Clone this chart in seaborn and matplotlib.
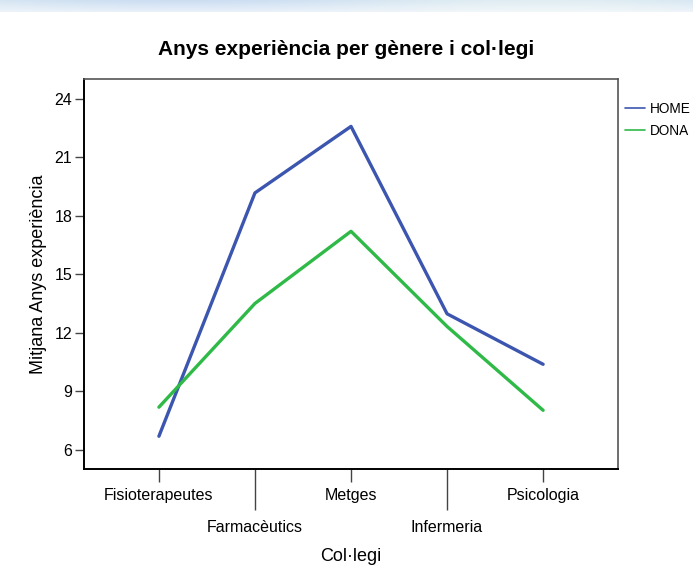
import numpy as np
import pandas as pd
import matplotlib
matplotlib.use("Agg")
import matplotlib.pyplot as plt
from matplotlib.lines import Line2D
import seaborn as sns

colleges = ['Fisioterapeutes', 'Farmacèutics', 'Metges', 'Infermeria', 'Psicologia']
home = [6.68, 19.16, 22.57, 12.96, 10.37]
dona = [8.17, 13.49, 17.19, 12.31, 8.01]
genders = ['HOME', 'DONA']
yticks = [6, 9, 12, 15, 18, 21, 24]

df = pd.DataFrame({
    'college': colleges * 2,
    'pos': list(range(len(colleges))) * 2,
    'anys': home + dona,
    'genere': ['HOME'] * len(colleges) + ['DONA'] * len(colleges),
})

sns.set_style("white")
plt.rcParams['font.family'] = ['Liberation Sans', 'DejaVu Sans']
plt.rcParams['text.color'] = 'black'
plt.rcParams['axes.labelcolor'] = 'black'
plt.rcParams['xtick.color'] = 'black'
plt.rcParams['ytick.color'] = 'black'

pal = {'HOME': '#3c56b0', 'DONA': '#2fba48'}

fig = plt.figure(figsize=(6.93, 5.73), dpi=100)

# faint band at the top, like the picture behind the original chart
bg = fig.add_axes([0, 0, 1, 1], zorder=-1)
grad = np.ones((573, 693, 3))
band = np.linspace(0, 1, 693)
for i in range(12):
    a = 1 - i / 12 * 0.6
    grad[i, :, 0] = 1 - a * (0.16 + 0.04 * np.sin(band * 6))
    grad[i, :, 1] = 1 - a * (0.10 + 0.03 * np.sin(band * 6))
    grad[i, :, 2] = 1 - a * 0.05
bg.imshow(grad, aspect='auto', extent=[0, 1, 0, 1])
bg.axis('off')

ax = fig.add_axes([0.1212, 0.1815, 0.7706, 0.6806])
ax.patch.set_alpha(0)
sns.lineplot(data=df, x='pos', y='anys', hue='genere', hue_order=genders,
             palette=pal, linewidth=2.4, legend=False, ax=ax)

ax.set_xlim(-0.78, 4.78)
ax.set_ylim(5, 25)
ax.set_yticks(yticks)
ax.set_yticklabels([str(v) for v in yticks], fontsize=11.5)
ax.set_xticks(range(len(colleges)))
ax.set_xticklabels([c if i % 2 == 0 else '\n' + c for i, c in enumerate(colleges)],
                   fontsize=11.5, linespacing=2.45)
ax.tick_params(axis='x', bottom=True, length=9.4, width=1, color='#444444', pad=4, direction='out')
ax.tick_params(axis='y', left=True, length=6.5, width=1, color='#444444', pad=2, direction='out')
for i, t in enumerate(ax.xaxis.get_major_ticks()):
    if i % 2 == 1:
        t.tick1line.set_markersize(29.5)

for s in ['left', 'bottom']:
    ax.spines[s].set_color('black')
    ax.spines[s].set_linewidth(1.4)
for s in ['top', 'right']:
    ax.spines[s].set_color('#555555')
    ax.spines[s].set_linewidth(1.2)

ax.set_xlabel('Col·legi', fontsize=13, labelpad=9)
ax.set_ylabel('Mitjana Anys experiència', fontsize=13, labelpad=5)
fig.text(0.5, 0.913, 'Anys experiència per gènere i col·legi',
         ha='center', va='center', fontsize=15, fontweight='bold')

handles = [Line2D([], [], color=pal[g], linewidth=1.2) for g in genders]
fig.legend(handles, genders, loc='upper left', bbox_to_anchor=(0.894, 0.832),
           frameon=False, fontsize=9.8, handlelength=1.5, handletextpad=0.3,
           labelspacing=0.6, borderaxespad=0)

fig.savefig('out.png', dpi=100)
